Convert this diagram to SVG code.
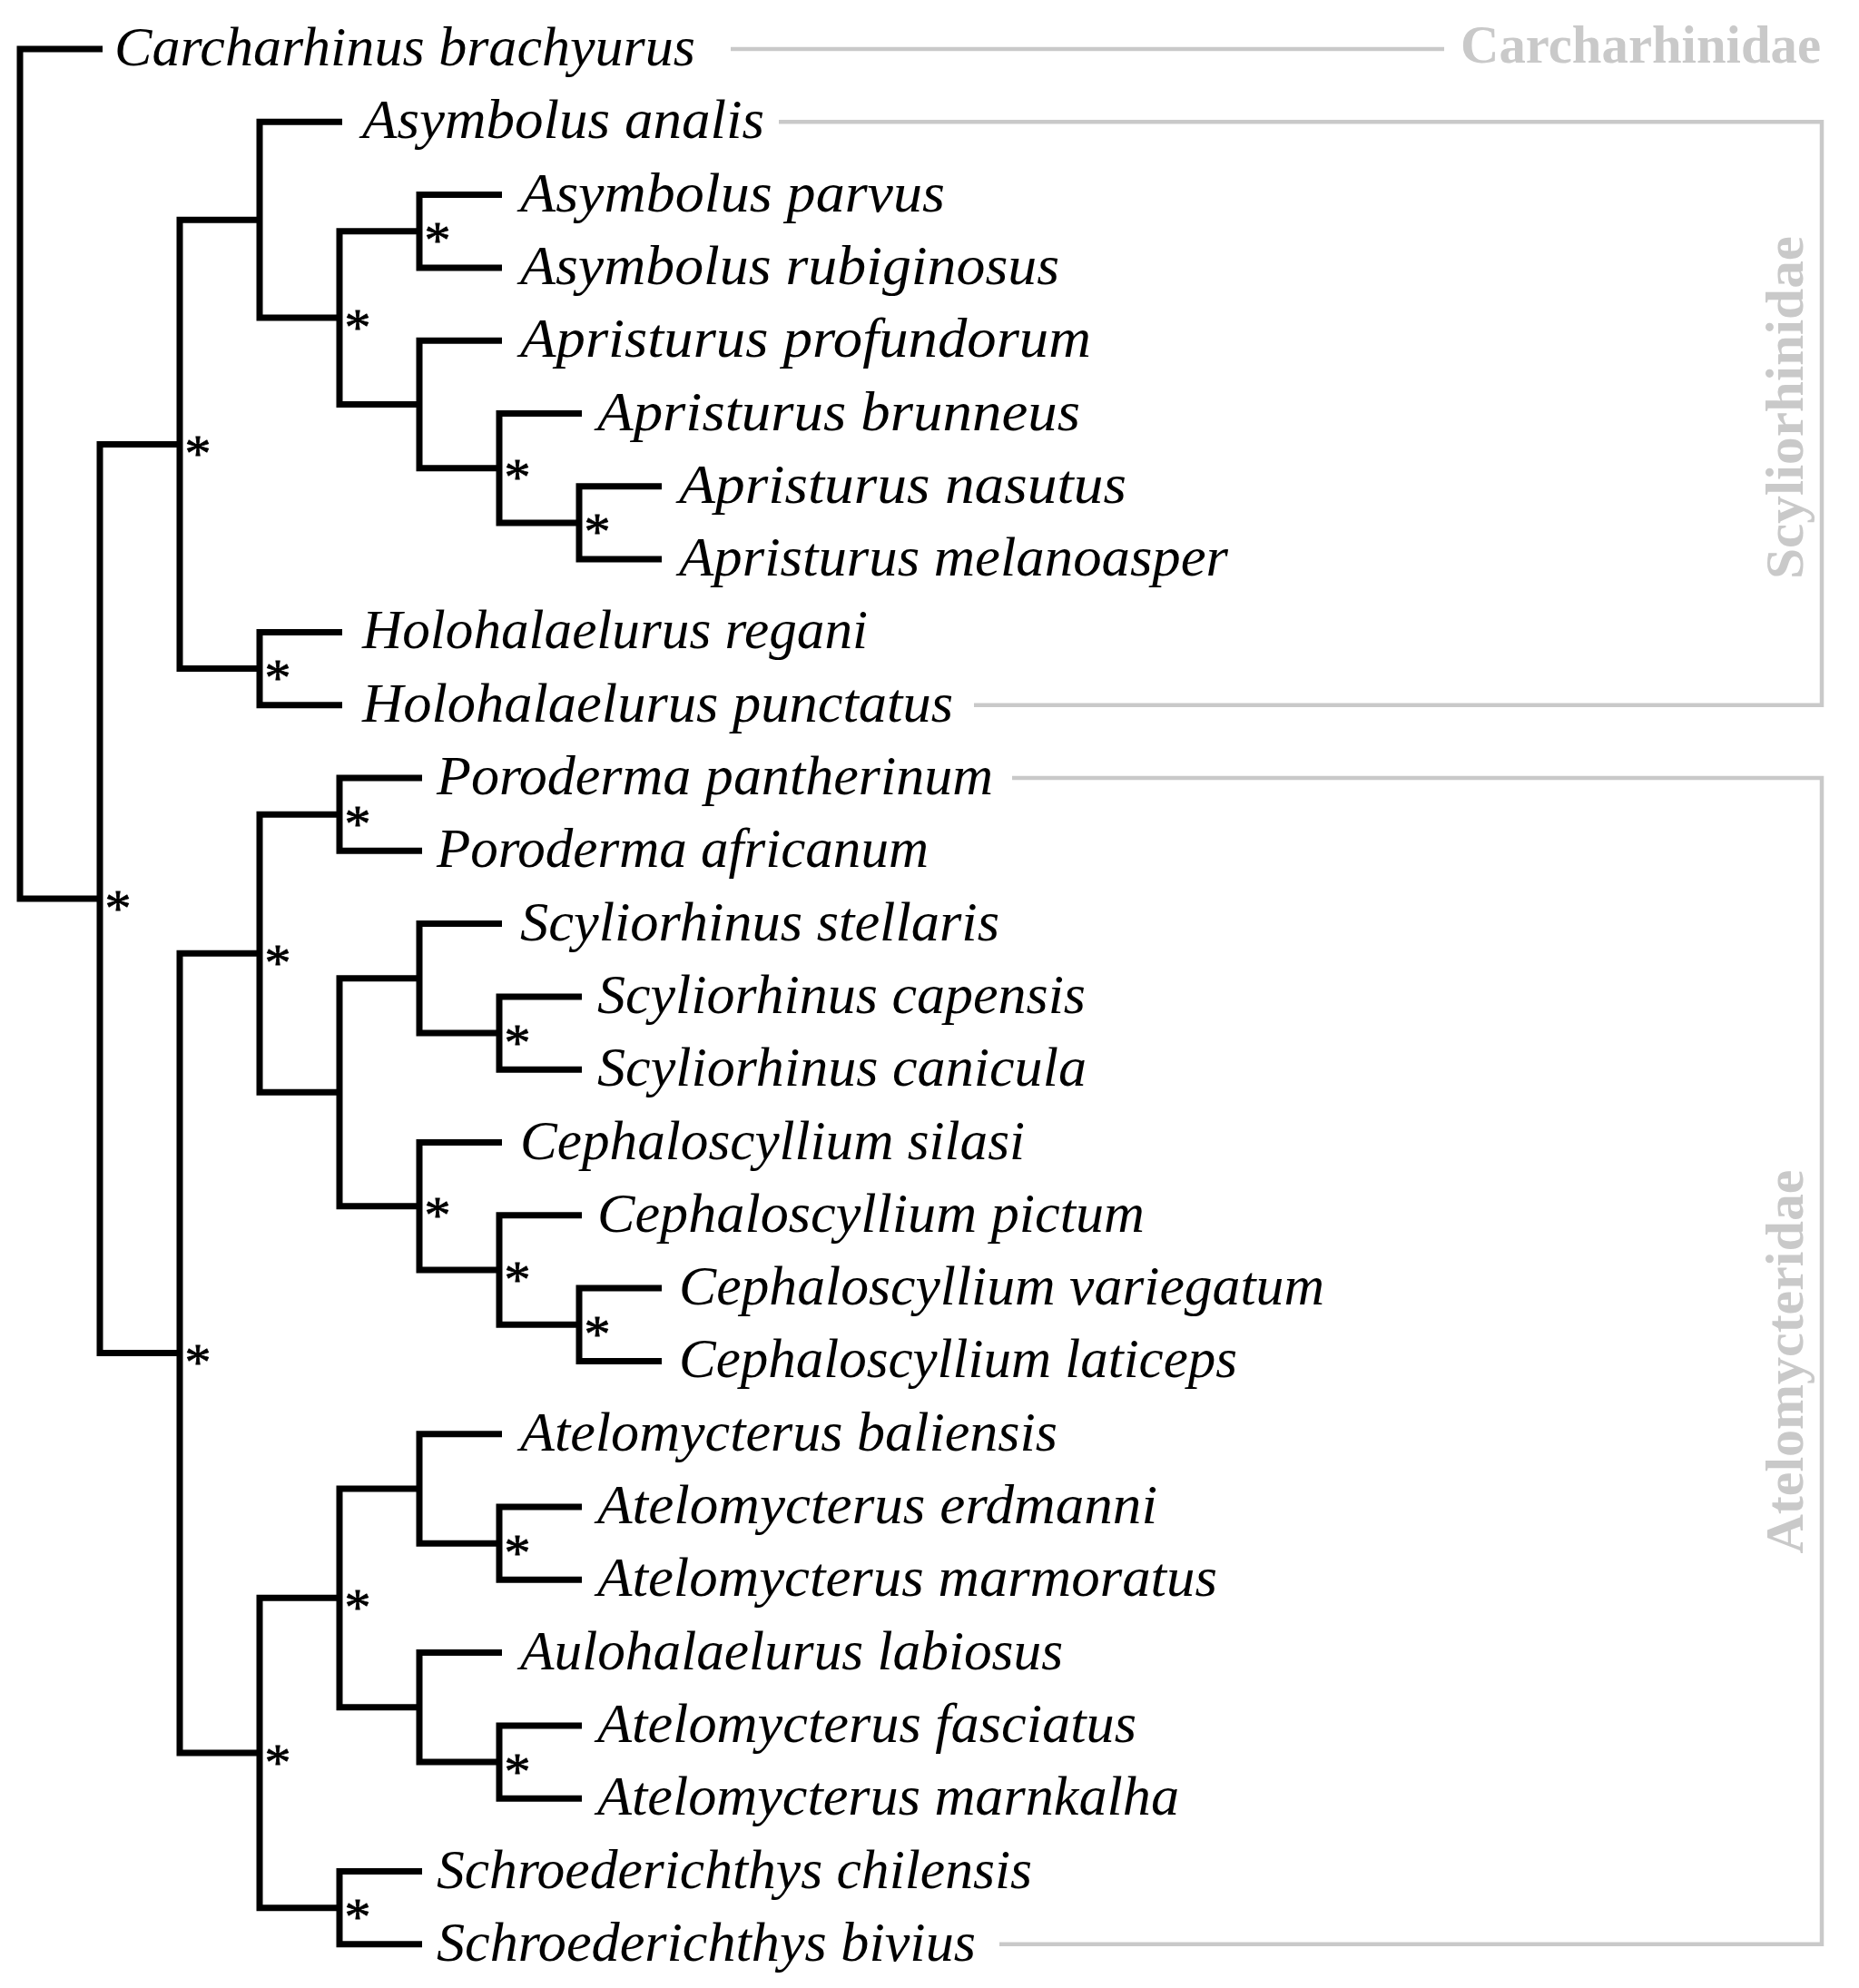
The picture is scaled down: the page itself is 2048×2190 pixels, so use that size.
<svg xmlns="http://www.w3.org/2000/svg" width="2048" height="2190" viewBox="0 0 2048 2190">
<style>
.br{fill:none;stroke:#000;stroke-width:7;stroke-linejoin:miter;stroke-linecap:butt}
.gl{fill:none;stroke:#c9c9c9;stroke-width:4.5;stroke-linejoin:miter}
.sp{font-family:"Liberation Serif","Times New Roman",serif;font-style:italic;font-size:62px;fill:#000}
.st{font-family:"Liberation Serif","Times New Roman",serif;font-size:58px;fill:#000;stroke:#000;stroke-width:0.8;text-anchor:middle}
.fam{font-family:"Liberation Serif","Times New Roman",serif;font-weight:bold;font-size:60px;fill:#c9c9c9}
</style>
<rect width="2048" height="2190" fill="#fff"/>
<g id="connectors">
<path class="br" d="M113 54H22V990H110"/>
<path class="br" d="M198 489.4H110V1490.6H198"/>
<path class="br" d="M286 242.2H198V736.55H286"/>
<path class="br" d="M377 134.3H286V350.1H374"/>
<path class="br" d="M462 254.75H374V445.5H462"/>
<path class="br" d="M553 214.6H462V294.9H553"/>
<path class="br" d="M553 375.2H462V515.7H550"/>
<path class="br" d="M641 455.5H550V575.95H638"/>
<path class="br" d="M729 535.8H638V616.1H729"/>
<path class="br" d="M377 696.4H286V776.7H377"/>
<path class="br" d="M286 1050.2H198V1931H286"/>
<path class="br" d="M374 897.15H286V1203.3H374"/>
<path class="br" d="M465 857H374V937.3H465"/>
<path class="br" d="M462 1077.8H374V1328.75H462"/>
<path class="br" d="M553 1017.6H462V1138.05H550"/>
<path class="br" d="M641 1097.9H550V1178.2H641"/>
<path class="br" d="M553 1258.5H462V1399H550"/>
<path class="br" d="M641 1338.8H550V1459.25H638"/>
<path class="br" d="M729 1419.1H638V1499.4H729"/>
<path class="br" d="M374 1760.35H286V2101.65H374"/>
<path class="br" d="M462 1639.9H374V1880.8H462"/>
<path class="br" d="M553 1579.7H462V1700.15H550"/>
<path class="br" d="M641 1660H550V1740.3H641"/>
<path class="br" d="M553 1820.6H462V1941.05H550"/>
<path class="br" d="M641 1900.9H550V1981.2H641"/>
<path class="br" d="M465 2061.5H374V2141.8H465"/>
<path class="gl" d="M805 54H1591"/>
<path class="gl" d="M858 134.3H2007V776.7H1073"/>
<path class="gl" d="M1115 857H2007V2141.8H1101"/>
</g>
<g id="support">
<text class="st" x="130" y="1019.5">*</text>
<text class="st" x="218" y="518.9">*</text>
<text class="st" x="394" y="379.6">*</text>
<text class="st" x="482" y="284.25">*</text>
<text class="st" x="570" y="545.2">*</text>
<text class="st" x="658" y="605.45">*</text>
<text class="st" x="306" y="766.05">*</text>
<text class="st" x="218" y="1520.1">*</text>
<text class="st" x="306" y="1079.7">*</text>
<text class="st" x="394" y="926.65">*</text>
<text class="st" x="570" y="1167.55">*</text>
<text class="st" x="482" y="1358.25">*</text>
<text class="st" x="570" y="1428.5">*</text>
<text class="st" x="658" y="1488.75">*</text>
<text class="st" x="306" y="1960.5">*</text>
<text class="st" x="394" y="1789.85">*</text>
<text class="st" x="570" y="1729.65">*</text>
<text class="st" x="570" y="1970.55">*</text>
<text class="st" x="394" y="2131.15">*</text>
</g>
<g id="taxa">
<text class="sp" x="126" y="72" textLength="640" lengthAdjust="spacingAndGlyphs">Carcharhinus brachyurus</text>
<text class="sp" x="399" y="152.3" textLength="443" lengthAdjust="spacingAndGlyphs">Asymbolus analis</text>
<text class="sp" x="573" y="232.6" textLength="468" lengthAdjust="spacingAndGlyphs">Asymbolus parvus</text>
<text class="sp" x="573" y="312.9" textLength="594" lengthAdjust="spacingAndGlyphs">Asymbolus rubiginosus</text>
<text class="sp" x="573" y="393.2" textLength="629" lengthAdjust="spacingAndGlyphs">Apristurus profundorum</text>
<text class="sp" x="658" y="473.5" textLength="532" lengthAdjust="spacingAndGlyphs">Apristurus brunneus</text>
<text class="sp" x="748" y="553.8" textLength="493" lengthAdjust="spacingAndGlyphs">Apristurus nasutus</text>
<text class="sp" x="748" y="634.1" textLength="605" lengthAdjust="spacingAndGlyphs">Apristurus melanoasper</text>
<text class="sp" x="399" y="714.4" textLength="557" lengthAdjust="spacingAndGlyphs">Holohalaelurus regani</text>
<text class="sp" x="399" y="794.7" textLength="651" lengthAdjust="spacingAndGlyphs">Holohalaelurus punctatus</text>
<text class="sp" x="481" y="875" textLength="613" lengthAdjust="spacingAndGlyphs">Poroderma pantherinum</text>
<text class="sp" x="481" y="955.3" textLength="542" lengthAdjust="spacingAndGlyphs">Poroderma africanum</text>
<text class="sp" x="573" y="1035.6" textLength="528" lengthAdjust="spacingAndGlyphs">Scyliorhinus stellaris</text>
<text class="sp" x="658" y="1115.9" textLength="538" lengthAdjust="spacingAndGlyphs">Scyliorhinus capensis</text>
<text class="sp" x="658" y="1196.2" textLength="539" lengthAdjust="spacingAndGlyphs">Scyliorhinus canicula</text>
<text class="sp" x="573" y="1276.5" textLength="556" lengthAdjust="spacingAndGlyphs">Cephaloscyllium silasi</text>
<text class="sp" x="658" y="1356.8" textLength="603" lengthAdjust="spacingAndGlyphs">Cephaloscyllium pictum</text>
<text class="sp" x="748" y="1437.1" textLength="711" lengthAdjust="spacingAndGlyphs">Cephaloscyllium variegatum</text>
<text class="sp" x="748" y="1517.4" textLength="615" lengthAdjust="spacingAndGlyphs">Cephaloscyllium laticeps</text>
<text class="sp" x="573" y="1597.7" textLength="592" lengthAdjust="spacingAndGlyphs">Atelomycterus baliensis</text>
<text class="sp" x="658" y="1678" textLength="617" lengthAdjust="spacingAndGlyphs">Atelomycterus erdmanni</text>
<text class="sp" x="658" y="1758.3" textLength="683" lengthAdjust="spacingAndGlyphs">Atelomycterus marmoratus</text>
<text class="sp" x="573" y="1838.6" textLength="598" lengthAdjust="spacingAndGlyphs">Aulohalaelurus labiosus</text>
<text class="sp" x="658" y="1918.9" textLength="594" lengthAdjust="spacingAndGlyphs">Atelomycterus fasciatus</text>
<text class="sp" x="658" y="1999.2" textLength="641" lengthAdjust="spacingAndGlyphs">Atelomycterus marnkalha</text>
<text class="sp" x="481" y="2079.5" textLength="656" lengthAdjust="spacingAndGlyphs">Schroederichthys chilensis</text>
<text class="sp" x="481" y="2159.8" textLength="594" lengthAdjust="spacingAndGlyphs">Schroederichthys bivius</text>
</g>
<g id="families">
<text class="fam" x="1609" y="69" textLength="397" lengthAdjust="spacingAndGlyphs">Carcharhinidae</text>
<text class="fam" transform="translate(1986 449) rotate(-90)" x="0" y="0" text-anchor="middle" textLength="378" lengthAdjust="spacingAndGlyphs">Scyliorhinidae</text>
<text class="fam" transform="translate(1986 1500) rotate(-90)" x="0" y="0" text-anchor="middle" textLength="423" lengthAdjust="spacingAndGlyphs">Atelomycteridae</text>
</g>
</svg>
